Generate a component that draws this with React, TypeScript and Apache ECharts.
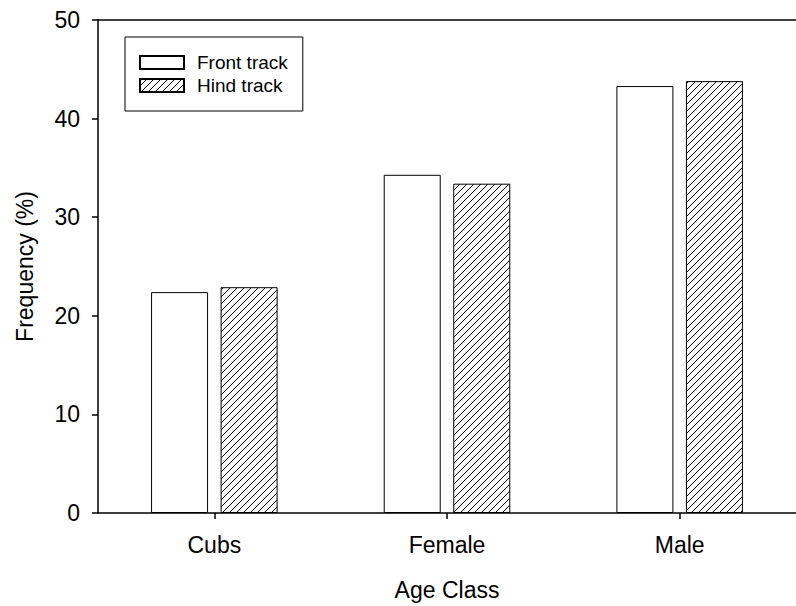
import React, { useEffect, useRef } from "react";
import * as echarts from "echarts";

const categories = ["Cubs", "Female", "Male"];
const frontTrack = [22.4, 34.3, 43.3];
const hindTrack = [22.9, 33.4, 43.8];
const seriesNames = ["Front track", "Hind track"];
const yTicks = { min: 0, max: 50, interval: 10 };

const FONT = "'Liberation Sans', Arial, Helvetica, sans-serif";

function makeHatch(): HTMLCanvasElement {
  const c = document.createElement("canvas");
  const s = 7;
  c.width = s;
  c.height = s;
  const ctx = c.getContext("2d")!;
  ctx.fillStyle = "#fff";
  ctx.fillRect(0, 0, s, s);
  ctx.strokeStyle = "#000";
  ctx.lineWidth = 1;
  ctx.beginPath();
  ctx.moveTo(-1, s + 1);
  ctx.lineTo(s + 1, -1);
  ctx.moveTo(-1, 1);
  ctx.lineTo(1, -1);
  ctx.moveTo(s - 1, s + 1);
  ctx.lineTo(s + 1, s - 1);
  ctx.stroke();
  return c;
}

export default function App() {
  const ref = useRef<HTMLDivElement>(null);
  useEffect(() => {
    if (!ref.current) return;
    const chart = echarts.init(ref.current, null, { renderer: "svg" });
    const hatch = makeHatch();
    chart.setOption({
      animation: false,
      backgroundColor: "#fff",
      textStyle: { fontFamily: FONT, color: "#000" },
      grid: { left: 98, top: 20, right: -6.5, bottom: 92.5, containLabel: false },
      legend: {
        orient: "vertical",
        left: 125,
        top: 37,
        icon: "rect",
        itemWidth: 44,
        itemHeight: 13,
        itemGap: 4,
        borderColor: "#000",
        borderWidth: 1,
        padding: [16, 15, 16, 14],
        textStyle: {
          fontSize: 19,
          fontFamily: FONT,
          color: "#000",
          padding: [0, 0, 0, 8],
        },
        data: seriesNames,
      },
      xAxis: [
        {
          type: "category",
          data: categories,
          position: "bottom",
          name: "Age Class",
          nameLocation: "middle",
          nameGap: 65,
          nameTextStyle: { fontSize: 23, fontFamily: FONT, color: "#000" },
          axisLine: { show: true, lineStyle: { color: "#000", width: 1.5 } },
          axisTick: { show: true, alignWithLabel: true, length: 6, lineStyle: { color: "#000", width: 1.5 } },
          axisLabel: { fontSize: 23, fontFamily: FONT, color: "#000", margin: 20 },
          splitLine: { show: false },
        },
        {
          type: "category",
          data: categories,
          position: "top",
          axisLine: { show: true, lineStyle: { color: "#000", width: 1.5 } },
          axisTick: { show: false },
          axisLabel: { show: false },
          splitLine: { show: false },
        },
      ],
      yAxis: {
        type: "value",
        min: yTicks.min,
        max: yTicks.max,
        interval: yTicks.interval,
        name: "Frequency (%)",
        nameLocation: "middle",
        nameGap: 62,
        nameTextStyle: { fontSize: 23, fontFamily: FONT, color: "#000" },
        axisLine: { show: true, lineStyle: { color: "#000", width: 1.5 } },
        axisTick: { show: true, length: 6, lineStyle: { color: "#000", width: 1.5 } },
        axisLabel: { fontSize: 23, fontFamily: FONT, color: "#000", margin: 18 },
        splitLine: { show: false },
      },
      series: [
        {
          name: seriesNames[0],
          type: "bar",
          data: frontTrack,
          barWidth: 57,
          barGap: "22%",
          itemStyle: { color: "#fff", borderColor: "#000", borderWidth: 1 },
        },
        {
          name: seriesNames[1],
          type: "bar",
          data: hindTrack,
          barWidth: 57,
          barGap: "22%",
          itemStyle: {
            color: { image: hatch, repeat: "repeat" },
            borderColor: "#000",
            borderWidth: 1,
          },
        },
      ],
    });
    return () => chart.dispose();
  }, []);
  return (
    <div
      ref={ref}
      style={{ position: "fixed", left: 0, top: 0, width: 796, height: 606 }}
    />
  );
}
